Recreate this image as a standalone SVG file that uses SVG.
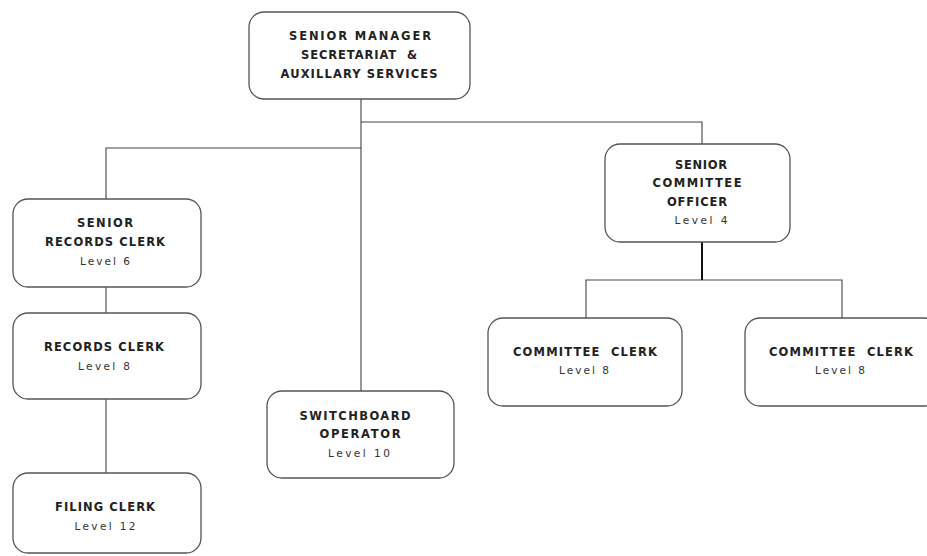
<svg xmlns="http://www.w3.org/2000/svg" width="927" height="556" viewBox="0 0 927 556">
<style>
.box{fill:#fff;stroke:#555;stroke-width:1.3}
.ln{fill:none;stroke:#444;stroke-width:1.1}
.t{font-family:"DejaVu Sans",Verdana,sans-serif;font-size:11.5px;font-weight:bold;fill:#222;text-anchor:middle;white-space:pre}
.l{font-family:"DejaVu Sans",Verdana,sans-serif;font-size:10.5px;fill:#333;text-anchor:middle}
</style>
<rect width="927" height="556" fill="#fff"/>
<g id="connectors">
<path class="ln" d="M361 99 V392 M361 122 H702 V145 M361 148 H106 V199 M106 287 V313 M106 399 V473 M586 318 V280 H842 V318"/>
<path d="M702 242 V280" fill="none" stroke="#111" stroke-width="2"/>
</g>
<g id="senior-manager">
<rect class="box" x="249" y="12" width="221" height="87" rx="15"/>
<text class="t" x="360" y="40" textLength="142" lengthAdjust="spacing">SENIOR MANAGER</text>
<text class="t" x="359" y="59" textLength="116" lengthAdjust="spacing">SECRETARIAT  &amp;</text>
<text class="t" x="359" y="78" textLength="157" lengthAdjust="spacing">AUXILLARY SERVICES</text>
</g>
<g id="senior-records-clerk">
<rect class="box" x="13" y="199" width="188" height="88" rx="15"/>
<text class="t" x="105" y="227" textLength="56" lengthAdjust="spacing">SENIOR</text>
<text class="t" x="105" y="246" textLength="120" lengthAdjust="spacing">RECORDS CLERK</text>
<text class="l" x="105" y="265" textLength="50" lengthAdjust="spacing">Level 6</text>
</g>
<g id="records-clerk">
<rect class="box" x="13" y="313" width="188" height="86" rx="15"/>
<text class="t" x="104" y="351" textLength="120" lengthAdjust="spacing">RECORDS CLERK</text>
<text class="l" x="104" y="370" textLength="52" lengthAdjust="spacing">Level 8</text>
</g>
<g id="filing-clerk">
<rect class="box" x="13" y="473" width="188" height="80" rx="15"/>
<text class="t" x="105" y="511" textLength="100" lengthAdjust="spacing">FILING CLERK</text>
<text class="l" x="105" y="530" textLength="61" lengthAdjust="spacing">Level 12</text>
</g>
<g id="switchboard-operator">
<rect class="box" x="267" y="391" width="187" height="87" rx="15"/>
<text class="t" x="355" y="420" textLength="111" lengthAdjust="spacing">SWITCHBOARD</text>
<text class="t" x="360" y="438" textLength="81" lengthAdjust="spacing">OPERATOR</text>
<text class="l" x="359" y="457" textLength="62" lengthAdjust="spacing">Level 10</text>
</g>
<g id="senior-committee-officer">
<rect class="box" x="605" y="144" width="185" height="98" rx="15"/>
<text class="t" x="701" y="169" textLength="52" lengthAdjust="spacing">SENIOR</text>
<text class="t" x="697" y="187" textLength="89" lengthAdjust="spacing">COMMITTEE</text>
<text class="t" x="697" y="206" textLength="60" lengthAdjust="spacing">OFFICER</text>
<text class="l" x="701" y="224" textLength="53" lengthAdjust="spacing">Level 4</text>
</g>
<g id="committee-clerk-1">
<rect class="box" x="488" y="318" width="194" height="88" rx="15"/>
<text class="t" x="585" y="356" textLength="144" lengthAdjust="spacing">COMMITTEE  CLERK</text>
<text class="l" x="584" y="374" textLength="50" lengthAdjust="spacing">Level 8</text>
</g>
<g id="committee-clerk-2">
<rect class="box" x="745" y="318" width="194" height="88" rx="15"/>
<text class="t" x="841" y="356" textLength="144" lengthAdjust="spacing">COMMITTEE  CLERK</text>
<text class="l" x="840" y="374" textLength="50" lengthAdjust="spacing">Level 8</text>
</g>
</svg>
